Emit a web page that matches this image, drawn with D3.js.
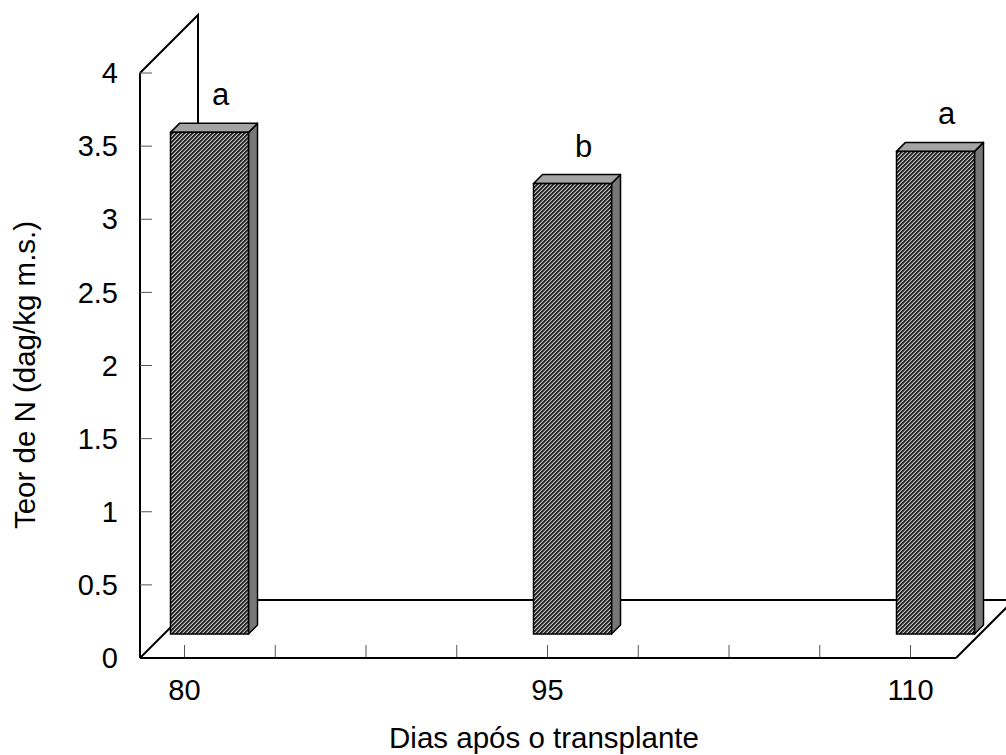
<!DOCTYPE html>
<html>
<head>
<meta charset="utf-8">
<script src="https://cdn.jsdelivr.net/npm/d3@7"></script>
<style>
  body { margin: 0; background: #fff; }
  svg { display: block; font-family: "Liberation Sans", Arial, sans-serif; }
</style>
</head>
<body>
<svg id="chart" width="1006" height="755"></svg>
<script>
// data
var days = [80, 95, 110]
var teorN = [3.43, 3.08, 3.30]
var letras = ["a", "b", "a"]
var yTicks = [0, 0.5, 1, 1.5, 2, 2.5, 3, 3.5, 4]
var xTickDays = d3.range(0, 9).map(function(i) { return 80 + i * 3.75 })

var svg = d3.select("#chart")

// scales (front plane)
var x = d3.scaleLinear().domain([80, 110]).range([184.5, 910.5])
var y = d3.scaleLinear().domain([0, 4]).range([658, 73])

// depth of the floor and position of the bars inside it
var depth = 58
var barDepthFront = 24
var barDepth = 9
var barWidth = 78

var floorLeft = 140
var floorRight = 956

// hatch pattern for the front faces
var defs = svg.append("defs")
var pat = defs.append("pattern")
    .attr("id", "hatch")
    .attr("patternUnits", "userSpaceOnUse")
    .attr("width", 4)
    .attr("height", 4)
pat.append("rect").attr("width", 4).attr("height", 4).attr("fill", "#262626")
;[[0, 3], [1, 2], [2, 1], [3, 0]].forEach(function(p) {
    pat.append("rect").attr("x", p[0]).attr("y", p[1]).attr("width", 1).attr("height", 1).attr("fill", "#c4c4c4")
})
;[[0, 2], [1, 1], [2, 0], [3, 3]].forEach(function(p) {
    pat.append("rect").attr("x", p[0]).attr("y", p[1]).attr("width", 1).attr("height", 1).attr("fill", "#6a6a6a")
})

var line = d3.line()

// side wall and floor
var walls = svg.append("g")
    .attr("fill", "none")
    .attr("stroke", "#000")
    .attr("stroke-width", 2)

walls.append("path").attr("d", line([[floorLeft, y(4)], [floorLeft + depth, y(4) - depth], [floorLeft + depth, y(0) - depth]]))
walls.append("path").attr("d", line([[floorLeft + depth, y(0) - depth], [floorRight + depth, y(0) - depth]]))
walls.append("path").attr("d", line([[floorLeft, y(0)], [floorLeft + depth, y(0) - depth]]))
walls.append("path").attr("d", line([[floorRight, y(0)], [floorRight + depth, y(0) - depth]]))

// bars
var bars = svg.append("g").selectAll(".barra")
    .data(days.map(function(d, i) { return { day: d, value: teorN[i], letra: letras[i] } }))
    .enter()
    .append("g")
    .attr("class", "barra")

function frontBox(d) {
    var l = x(d.day) + barDepthFront - barWidth / 2 + 1
    return { l: l, r: l + barWidth, t: y(d.value) - barDepthFront, b: y(0) - barDepthFront }
}

bars.append("path")
    .attr("d", function(d) {
        var f = frontBox(d)
        return line([[f.r, f.t], [f.r + barDepth, f.t - barDepth], [f.r + barDepth, f.b - barDepth], [f.r, f.b]]) + "Z"
    })
    .attr("fill", "#777")
    .attr("stroke", "#000")
    .attr("stroke-width", 1.5)
    .attr("stroke-linejoin", "round")

bars.append("path")
    .attr("d", function(d) {
        var f = frontBox(d)
        return line([[f.l, f.t], [f.l + barDepth, f.t - barDepth], [f.r + barDepth, f.t - barDepth], [f.r, f.t]]) + "Z"
    })
    .attr("fill", "#a4a4a4")
    .attr("stroke", "#000")
    .attr("stroke-width", 1.5)
    .attr("stroke-linejoin", "round")

bars.append("rect")
    .attr("x", function(d) { return frontBox(d).l })
    .attr("y", function(d) { return frontBox(d).t })
    .attr("width", barWidth)
    .attr("height", function(d) { var f = frontBox(d); return f.b - f.t })
    .attr("fill", "url(#hatch)")
    .attr("stroke", "#000")
    .attr("stroke-width", 1.5)

bars.append("text")
    .attr("x", function(d) { return x(d.day) + barDepthFront + 12 })
    .attr("y", function(d) { return frontBox(d).t - barDepth - 18 })
    .attr("text-anchor", "middle")
    .attr("font-size", 31)
    .text(function(d) { return d.letra })

// y axis
var yAxis = svg.append("g")
yAxis.append("path")
    .attr("d", line([[floorLeft, y(0)], [floorLeft, y(4)]]))
    .attr("stroke", "#000")
    .attr("stroke-width", 2)
yAxis.selectAll(".ytick")
    .data(yTicks)
    .enter()
    .append("line")
    .attr("x1", floorLeft)
    .attr("x2", floorLeft + 12)
    .attr("y1", function(d) { return y(d) })
    .attr("y2", function(d) { return y(d) })
    .attr("stroke", "#555")
    .attr("stroke-width", 1)
yAxis.selectAll(".ylabel")
    .data(yTicks)
    .enter()
    .append("text")
    .attr("x", 118)
    .attr("y", function(d) { return y(d) })
    .attr("dy", "0.35em")
    .attr("text-anchor", "end")
    .attr("font-size", 29)
    .text(function(d) { return d })

// x axis (front edge of the floor)
var xAxis = svg.append("g")
xAxis.selectAll(".xtick")
    .data(xTickDays)
    .enter()
    .append("line")
    .attr("x1", function(d) { return x(d) })
    .attr("x2", function(d) { return x(d) })
    .attr("y1", y(0))
    .attr("y2", y(0) - 13)
    .attr("stroke", "#555")
    .attr("stroke-width", 1)
xAxis.append("path")
    .attr("d", line([[floorLeft, y(0)], [floorRight, y(0)]]))
    .attr("stroke", "#000")
    .attr("stroke-width", 2)
xAxis.selectAll(".xlabel")
    .data(days)
    .enter()
    .append("text")
    .attr("x", function(d) { return x(d) })
    .attr("y", 700)
    .attr("text-anchor", "middle")
    .attr("font-size", 29)
    .text(function(d) { return d })

// titles
svg.append("text")
    .attr("x", 544)
    .attr("y", 748)
    .attr("text-anchor", "middle")
    .attr("font-size", 29.5)
    .text("Dias após o transplante")

svg.append("text")
    .attr("transform", "translate(35," + 375 + ") rotate(-90)")
    .attr("text-anchor", "middle")
    .attr("font-size", 29.5)
    .text("Teor de N (dag/kg m.s.)")
</script>
</body>
</html>
